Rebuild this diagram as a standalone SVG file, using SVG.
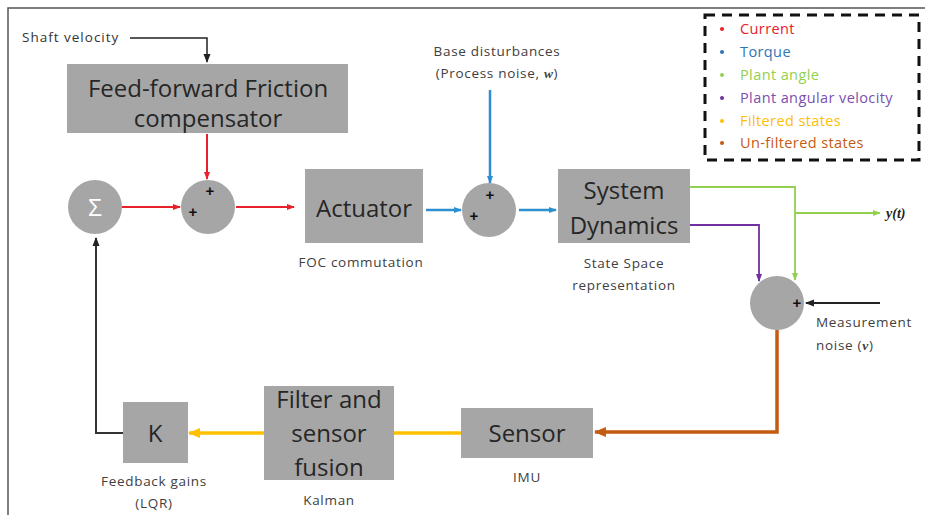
<svg xmlns="http://www.w3.org/2000/svg" width="925" height="517" viewBox="0 0 925 517">
<style>
.box{fill:#a6a6a6}
.big{font-family:"Open Sans","Liberation Sans",sans-serif;font-size:24px;fill:#262626;text-anchor:middle}
.sm{font-family:"Open Sans","Liberation Sans",sans-serif;font-size:13.5px;letter-spacing:0.7px;fill:#404040;text-anchor:middle}
.lg{font-family:"Open Sans","Liberation Sans",sans-serif;font-size:14.5px;letter-spacing:0.4px}
.plus{font-family:"Liberation Sans",sans-serif;font-size:15px;font-weight:bold;fill:#111;text-anchor:middle}
.c{fill:none}
</style>
<defs>
<marker id="aR" markerWidth="8" markerHeight="8" refX="7" refY="4" orient="auto" markerUnits="userSpaceOnUse"><path d="M0,1 L8,4 L0,7 Z" fill="#e8202a"/></marker>
<marker id="aB" markerWidth="8" markerHeight="8" refX="7" refY="4" orient="auto" markerUnits="userSpaceOnUse"><path d="M0,1 L8,4 L0,7 Z" fill="#2e8fd0"/></marker>
<marker id="aG" markerWidth="8" markerHeight="8" refX="7" refY="4" orient="auto" markerUnits="userSpaceOnUse"><path d="M0,1 L8,4 L0,7 Z" fill="#92d050"/></marker>
<marker id="aP" markerWidth="8" markerHeight="8" refX="7" refY="4" orient="auto" markerUnits="userSpaceOnUse"><path d="M0,1 L8,4 L0,7 Z" fill="#7030a0"/></marker>
<marker id="aY" markerWidth="12" markerHeight="12" refX="11" refY="6" orient="auto" markerUnits="userSpaceOnUse"><path d="M0,1 L12,6 L0,11 Z" fill="#ffc000"/></marker>
<marker id="aO" markerWidth="12" markerHeight="12" refX="11" refY="6" orient="auto" markerUnits="userSpaceOnUse"><path d="M0,1 L12,6 L0,11 Z" fill="#c55a11"/></marker>
<marker id="aK" markerWidth="9" markerHeight="9" refX="8" refY="4.5" orient="auto" markerUnits="userSpaceOnUse"><path d="M0,1 L9,4.5 L0,8 Z" fill="#222"/></marker>
</defs>
<rect width="925" height="517" fill="#fff"/>
<path d="M8,515 L8,8 L925,8" fill="none" stroke="#555" stroke-width="1.5"/>

<g id="connectors">
<path class="c" d="M130,38 H207 V62" stroke="#222" stroke-width="1.5" marker-end="url(#aK)"/>
<path class="c" d="M207,134 V179" stroke="#e8202a" stroke-width="2" marker-end="url(#aR)"/>
<path class="c" d="M122,207 H180" stroke="#e8202a" stroke-width="2" marker-end="url(#aR)"/>
<path class="c" d="M236,207 H294" stroke="#e8202a" stroke-width="2" marker-end="url(#aR)"/>
<path class="c" d="M426,210 H461" stroke="#2e8fd0" stroke-width="2.5" marker-end="url(#aB)"/>
<path class="c" d="M490,90 V183" stroke="#2e8fd0" stroke-width="2.5" marker-end="url(#aB)"/>
<path class="c" d="M519,210 H556" stroke="#2e8fd0" stroke-width="2.5" marker-end="url(#aB)"/>
<path class="c" d="M690,187 H795 V280" stroke="#92d050" stroke-width="1.8" marker-end="url(#aG)"/>
<path class="c" d="M795,213 H880" stroke="#92d050" stroke-width="1.8" marker-end="url(#aG)"/>
<path class="c" d="M690,225 H759 V281" stroke="#7030a0" stroke-width="1.8" marker-end="url(#aP)"/>
<path class="c" d="M880,303 H806" stroke="#222" stroke-width="2" marker-end="url(#aK)"/>
<path class="c" d="M777,330 V432 H595" stroke="#c55a11" stroke-width="3.5" marker-end="url(#aO)"/>
<path class="c" d="M461,433 H394" stroke="#ffc000" stroke-width="3.5"/>
<path class="c" d="M264,433 H189" stroke="#ffc000" stroke-width="3.5" marker-end="url(#aY)"/>
<path class="c" d="M123,433 H96 V238" stroke="#333" stroke-width="2" marker-end="url(#aK)"/>
</g>

<g id="shaft-velocity"><text class="sm" x="22" y="42" style="text-anchor:start;letter-spacing:1px;fill:#333">Shaft velocity</text></g>

<g id="friction">
<rect class="box" x="67" y="64" width="281" height="69"/>
<text class="big" x="208" y="97">Feed-forward Friction</text>
<text class="big" x="208" y="127">compensator</text>
</g>

<g id="sigma">
<circle cx="95" cy="207" r="27" fill="#a6a6a6"/>
<text x="95" y="216" style="font-family:'Open Sans','DejaVu Sans',sans-serif;font-size:24px;fill:#fff;text-anchor:middle">Σ</text>
</g>

<g id="sum1">
<circle cx="208" cy="207" r="27" fill="#a6a6a6"/>
<text class="plus" x="210" y="196">+</text>
<text class="plus" x="193" y="217">+</text>
</g>

<g id="actuator">
<rect class="box" x="305" y="169" width="118" height="74"/>
<text class="big" x="364" y="217">Actuator</text>
<text class="sm" x="361" y="267">FOC commutation</text>
</g>

<g id="disturbance">
<text class="sm" x="497" y="56">Base disturbances</text>
<text class="sm" x="497" y="78">(Process noise, <tspan style="font-family:'Liberation Serif',serif;font-style:italic;font-weight:bold">w</tspan>)</text>
</g>

<g id="sum2">
<circle cx="489" cy="210" r="27" fill="#a6a6a6"/>
<text class="plus" x="490" y="200">+</text>
<text class="plus" x="474" y="221">+</text>
</g>

<g id="system">
<rect class="box" x="558" y="169" width="132" height="74"/>
<text class="big" x="624" y="199">System</text>
<text class="big" x="624" y="234">Dynamics</text>
<text class="sm" x="624" y="268">State Space</text>
<text class="sm" x="624" y="290">representation</text>
</g>

<g id="output"><text x="886" y="218" style="font-family:'Liberation Serif',serif;font-style:italic;font-weight:bold;font-size:14px;fill:#222">y(t)</text></g>

<g id="sum3">
<circle cx="777" cy="303" r="27" fill="#a6a6a6"/>
<text class="plus" x="797" y="308">+</text>
<text class="sm" x="816" y="327" style="text-anchor:start">Measurement</text>
<text class="sm" x="816" y="350" style="text-anchor:start">noise (<tspan style="font-family:'Liberation Serif',serif;font-style:italic;font-weight:bold">v</tspan>)</text>
</g>

<g id="sensor">
<rect class="box" x="461" y="408" width="132" height="50"/>
<text class="big" x="527" y="442">Sensor</text>
<text class="sm" x="527" y="482">IMU</text>
</g>

<g id="filter">
<rect class="box" x="264" y="386" width="130" height="94"/>
<text class="big" x="329" y="408">Filter and</text>
<text class="big" x="329" y="442">sensor</text>
<text class="big" x="329" y="476">fusion</text>
<text class="sm" x="329" y="505">Kalman</text>
</g>

<g id="gain">
<rect class="box" x="123" y="402" width="65" height="61"/>
<text class="big" x="155" y="442">K</text>
<text class="sm" x="154" y="486">Feedback gains</text>
<text class="sm" x="154" y="508">(LQR)</text>
</g>

<g id="legend">
<rect x="705" y="15" width="214" height="145" fill="#fff" stroke="#111" stroke-width="3" stroke-dasharray="10,7"/>
<circle cx="722" cy="29" r="2" fill="#e8202a"/><text class="lg" x="740" y="34" fill="#e8202a">Current</text>
<circle cx="722" cy="52" r="2" fill="#2e75b6"/><text class="lg" x="740" y="57" fill="#2e75b6">Torque</text>
<circle cx="722" cy="75" r="2" fill="#92d050"/><text class="lg" x="740" y="80" fill="#92d050">Plant angle</text>
<circle cx="722" cy="98" r="2" fill="#7030a0"/><text class="lg" x="740" y="103" fill="#7b4fb0">Plant angular velocity</text>
<circle cx="722" cy="121" r="2" fill="#ffc000"/><text class="lg" x="740" y="126" fill="#ffc000">Filtered states</text>
<circle cx="722" cy="143" r="2" fill="#c55a11"/><text class="lg" x="740" y="148" fill="#c55a11">Un-filtered states</text>
</g>
</svg>
